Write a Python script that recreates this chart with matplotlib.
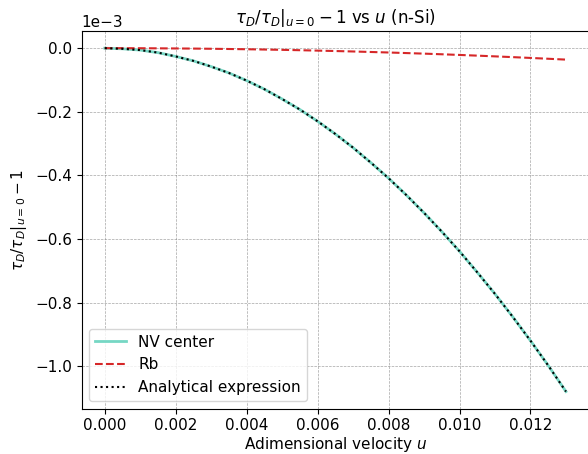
import numpy as np
import matplotlib
matplotlib.use("Agg")
import matplotlib.pyplot as plt

plt.rcParams['font.size'] = 11
plt.rcParams['font.family'] = ['DejaVu Sans']

u = [0.0, 0.0005, 0.001, 0.0015, 0.002, 0.0025, 0.003, 0.0035, 0.004, 0.0045,
     0.005, 0.0055, 0.006, 0.0065, 0.007, 0.0075, 0.008, 0.0085, 0.009, 0.0095,
     0.010, 0.0105, 0.011, 0.0115, 0.012, 0.0125, 0.013]
# values in units of 1e-3
nv_center = [0.0, -0.002, -0.006, -0.014, -0.026, -0.040, -0.058, -0.078, -0.102, -0.129,
             -0.160, -0.193, -0.230, -0.270, -0.313, -0.360, -0.409, -0.462, -0.518, -0.577,
             -0.639, -0.705, -0.773, -0.845, -0.920, -0.998, -1.080]
rb = [0.0, -0.00005, -0.0002, -0.0005, -0.0009, -0.0013, -0.0019, -0.0026, -0.0034, -0.0043,
      -0.0053, -0.0064, -0.0077, -0.0090, -0.0104, -0.0120, -0.0136, -0.0154, -0.0172, -0.0192,
      -0.0213, -0.0235, -0.0258, -0.0282, -0.0307, -0.0333, -0.0360]
analytical = [0.0, -0.002, -0.006, -0.014, -0.026, -0.040, -0.058, -0.078, -0.102, -0.129,
              -0.160, -0.193, -0.230, -0.270, -0.313, -0.360, -0.409, -0.462, -0.518, -0.577,
              -0.639, -0.705, -0.773, -0.845, -0.920, -0.998, -1.080]

scale = 1e-3

fig = plt.figure(figsize=(5.88, 4.54), dpi=100)
W, H = 588, 454
left, right, top, bottom = 81.7, 589.0, 31.0, 408.7
ax = fig.add_axes([left / W, 1 - bottom / H, (right - left) / W, (bottom - top) / H])

ax.plot(u, np.array(nv_center) * scale, color='#76d7c4', lw=2, label='NV center')
ax.plot(u, np.array(rb) * scale, color='#d62728', lw=1.5, ls='--', label='Rb')
ax.plot(u, np.array(analytical) * scale, color='black', lw=1.5, ls=':', label='Analytical expression')

ax.set_title(r'$\tau_D/\tau_D|_{u=0} - 1$ vs $u$ (n-Si)', fontsize=12)
ax.set_xlabel(r'Adimensional velocity $u$', labelpad=1)
ax.set_ylabel(r'$\tau_D/\tau_D|_{u=0} - 1$')
ax.set_xticks([0.0, 0.002, 0.004, 0.006, 0.008, 0.010, 0.012])
ax.ticklabel_format(axis='y', style='sci', scilimits=(0, 0))
ax.grid(True, linestyle='--', linewidth=0.5, color='gray', alpha=0.7)
ax.legend(loc='lower left')

fig.savefig('out.png', dpi=100)
